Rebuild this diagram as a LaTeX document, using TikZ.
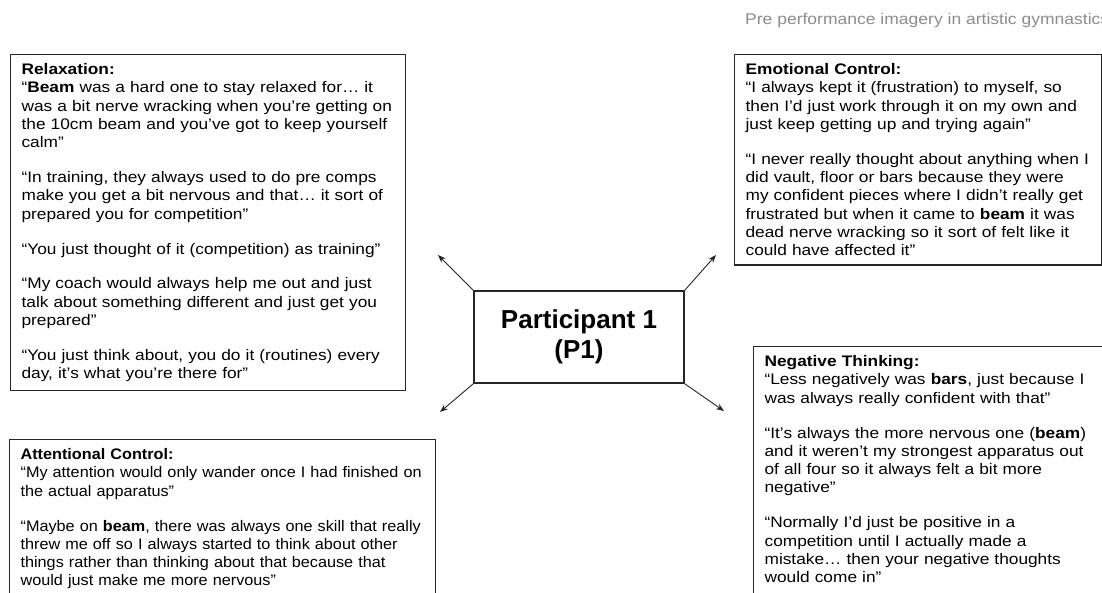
\documentclass[tikz,border=0pt]{standalone}
\usepackage{fontspec}
\setmainfont{Liberation Sans}[FakeStretch=1.13]
\newfontfamily\boxfont{Liberation Sans}
\newfontfamily\narrowfont{Liberation Sans}[FakeStretch=1.06]
\usepackage{tikz}
\usetikzlibrary{arrows.meta,positioning}

\newcommand{\gap}{\\[16.5pt]}
\newcommand{\runon}{\rule[-30pt]{0pt}{30pt}}

\begin{document}
\begin{tikzpicture}[x=1pt,y=-1pt,
    quotebox/.style={draw=black!85, line width=1.2pt, anchor=north west, align=left,
        inner xsep=11pt, inner ysep=9pt, font=\fontsize{15.3}{18.3}\selectfont},
    centerbox/.style={draw=black!85, line width=1.8pt, align=center, minimum width=210pt,
        minimum height=92pt, inner sep=0pt, font=\boxfont\bfseries\fontsize{26}{30}\selectfont},
    link/.style={-{Stealth[length=8pt,width=6pt]}, line width=0.9pt, black!85}]
            \clip (0,0) rectangle (1102,592);
            \fill[white] (0,0) rectangle (1102,592);

            \node[anchor=base west, text=black!45, font=\fontsize{15.5}{18}\selectfont, inner sep=0pt] (title) at (745,24)
                {Pre performance imagery in artistic gymnastics};

            \node[centerbox] (part) at (579,337) {Participant 1\\(P1)};

            \node[quotebox, text width=373pt] (relax) at (10,54) {\textbf{Relaxation:}\\
                “\textbf{Beam} was a hard one to stay relaxed for… it\\
                was a bit nerve wracking when you’re getting on\\
                the 10cm beam and you’ve got to keep yourself\\
                calm”\gap
                “In training, they always used to do pre comps\\
                make you get a bit nervous and that… it sort of\\
                prepared you for competition”\gap
                “You just thought of it (competition) as training”\gap
                “My coach would always help me out and just\\
                talk about something different and just get you\\
                prepared”\gap
                “You just think about, you do it (routines) every\\
                day, it’s what you’re there for”};

            \node[quotebox, text width=345pt] (emotion) at (734,54) {\textbf{Emotional Control:}\\
                “I always kept it (frustration) to myself, so\\
                then I’d just work through it on my own and\\
                just keep getting up and trying again”\gap
                “I never really thought about anything when I\\
                did vault, floor or bars because they were\\
                my confident pieces where I didn’t really get\\
                frustrated but when it came to \textbf{beam} it was\\
                dead nerve wracking so it sort of felt like it\\
                could have affected it”};

            \node[quotebox, text width=404pt, font=\narrowfont\fontsize{15.3}{18.3}\selectfont] (attention) at (9,439)
                {\textbf{Attentional Control:}\\
                “My attention would only wander once I had finished on\\
                the actual apparatus”\gap
                “Maybe on \textbf{beam}, there was always one skill that really\\
                threw me off so I always started to think about other\\
                things rather than thinking about that because that\\
                would just make me more nervous”\runon};

            \node[quotebox, text width=360pt] (negative) at (753,346) {\textbf{Negative Thinking:}\\
                “Less negatively was \textbf{bars}, just because I\\
                was always really confident with that”\gap
                “It’s always the more nervous one (\textbf{beam})\\
                and it weren’t my strongest apparatus out\\
                of all four so it always felt a bit more\\
                negative”\gap
                “Normally I’d just be positive in a\\
                competition until I actually made a\\
                mistake… then your negative thoughts\\
                would come in”\runon};

            \coordinate (nw) at (438,255);
            \coordinate (ne) at (716,255);
            \coordinate (sw) at (440,412);
            \coordinate (se) at (724,411);

            \draw[link] (part.north west) -- (nw);
            \draw[link] (part.north east) -- (ne);
            \draw[link] (part.south west) -- (sw);
            \draw[link] (part.south east) -- (se);
        \end{tikzpicture}
\end{document}
